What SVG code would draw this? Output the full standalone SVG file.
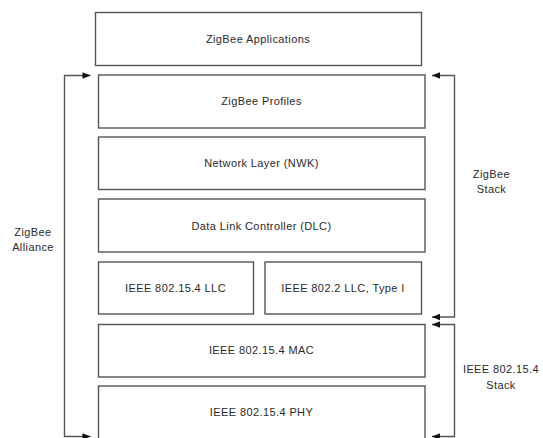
<svg xmlns="http://www.w3.org/2000/svg" width="543" height="438" viewBox="0 0 543 438">
<style>
.box{fill:#fff;stroke:#555;stroke-width:1.4}
.t{font-family:"Liberation Sans",Arial,sans-serif;font-size:11px;fill:#2a2a2a;text-anchor:middle;letter-spacing:0.4px}
.c{fill:none;stroke:#555;stroke-width:1.4}
</style>
<defs>
<marker id="ah" viewBox="0 0 10 10" refX="10" refY="5" markerWidth="9" markerHeight="8" markerUnits="userSpaceOnUse" orient="auto-start-reverse">
<path d="M0,1 L10,5 L0,9 z" fill="#111"/>
</marker>
</defs>
<rect width="543" height="438" fill="#fff"/>
<g id="apps"><rect class="box" x="95.5" y="12.5" width="326" height="53"/><text class="t" x="258" y="42.5">ZigBee Applications</text></g>
<g id="profiles"><rect class="box" x="98.5" y="75" width="326.5" height="53"/><text class="t" x="261.5" y="105">ZigBee Profiles</text></g>
<g id="nwk"><rect class="box" x="98.5" y="137" width="326.5" height="52.5"/><text class="t" x="261.5" y="167">Network Layer (NWK)</text></g>
<g id="dlc"><rect class="box" x="98.5" y="199" width="326.5" height="53"/><text class="t" x="261.5" y="229.5">Data Link Controller (DLC)</text></g>
<g id="llc154"><rect class="box" x="98.5" y="262" width="155" height="52"/><text class="t" x="175.5" y="292">IEEE 802.15.4 LLC</text></g>
<g id="llc802"><rect class="box" x="265" y="262" width="156.5" height="52"/><text class="t" x="343" y="292">IEEE 802.2 LLC, Type I</text></g>
<g id="mac"><rect class="box" x="98.5" y="324.5" width="326.5" height="52.5"/><text class="t" x="261.5" y="354">IEEE 802.15.4 MAC</text></g>
<g id="phy"><rect class="box" x="98.5" y="386" width="326.5" height="54"/><text class="t" x="261.5" y="416">IEEE 802.15.4 PHY</text></g>
<g id="connectors">
<path class="c" d="M90.5,75.5 H64.5 V436.5 H90.5" marker-start="url(#ah)" marker-end="url(#ah)"/>
<path class="c" d="M432,75.5 H454.5 V317 H432" marker-start="url(#ah)" marker-end="url(#ah)"/>
<path class="c" d="M432,324.5 H454.5 V436.5 H432" marker-start="url(#ah)" marker-end="url(#ah)"/>
</g>
<g id="label-alliance"><text class="t" x="33" y="235.5">ZigBee</text><text class="t" x="33" y="250.5">Alliance</text></g>
<g id="label-zstack"><text class="t" x="491.5" y="177.5">ZigBee</text><text class="t" x="491.5" y="192.5">Stack</text></g>
<g id="label-ieeestack"><text class="t" x="501" y="373">IEEE 802.15.4</text><text class="t" x="501" y="388.5">Stack</text></g>
</svg>
